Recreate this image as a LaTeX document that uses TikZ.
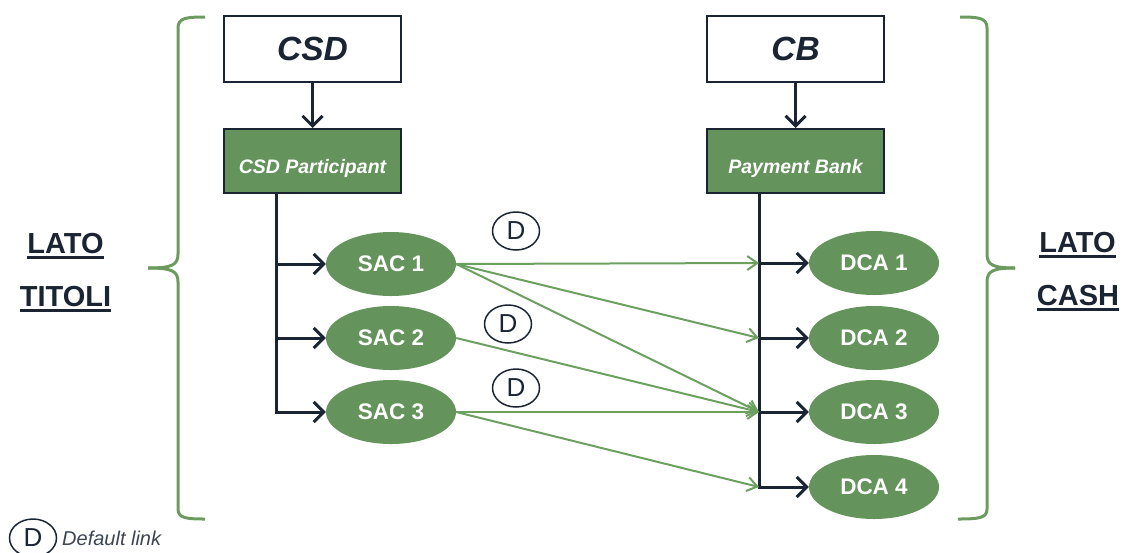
\documentclass[tikz,border=0pt]{standalone}
\usepackage{fontspec}
\setmainfont{Liberation Sans}
\usetikzlibrary{arrows.meta,shapes.geometric}
\definecolor{dk}{HTML}{1B2433}
\definecolor{gf}{HTML}{64935B}
\definecolor{gl}{HTML}{6CA060}
\definecolor{gb}{HTML}{6C9B60}
\begin{document}
\begin{tikzpicture}[x=1pt,y=-1pt,
  topbox/.style={draw=dk,line width=2pt,fill=white,minimum width=177pt,minimum height=66pt,inner sep=0pt,
    text=dk,font=\fontsize{33.5}{36}\selectfont\bfseries\itshape},
  midbox/.style={draw=dk,line width=2pt,fill=gf,minimum width=177pt,minimum height=64pt,inner sep=0pt,
    text height=25pt,text depth=0pt,
    text=white,font=\fontsize{19.5}{22}\selectfont\bfseries\itshape},
  acc/.style={ellipse,fill=gf,minimum width=130pt,minimum height=64pt,inner sep=0pt,
    text=white,font=\fontsize{22.5}{25}\selectfont\bfseries},
  dcirc/.style={ellipse,draw=dk,line width=1.5pt,minimum width=47pt,minimum height=38pt,inner sep=0pt,
    text=dk,font=\fontsize{26}{28}\selectfont},
  lato/.style={inner sep=0pt,anchor=base,text=dk,font=\fontsize{29}{32}\selectfont\bfseries},
  ul/.style={draw=dk,line width=2.5pt},
  dkline/.style={draw=dk,line width=3pt},
  dkarrow/.style={dkline,-{Straight Barb[length=10pt,width=20pt,line width=3pt]}},
  garrow/.style={draw=gl,line width=2pt,-{Straight Barb[length=10pt,width=14pt,line width=2pt]}},
  brace/.style={draw=gb,line width=3pt}]
\useasboundingbox (0,0) rectangle (1123,552);

% braces
\draw[brace] (205,17) .. controls (186,17) and (178,18) .. (178,28) -- (178,254)
  .. controls (178,265) and (172,268) .. (148,268);
\draw[brace] (148,268) .. controls (172,268) and (178,271) .. (178,282) -- (178,509)
  .. controls (178,518) and (186,519) .. (205,519);
\draw[brace] (960,17) .. controls (979,17) and (987,18) .. (987,28) -- (987,254)
  .. controls (987,265) and (993,268) .. (1015,268);
\draw[brace] (1015,268) .. controls (993,268) and (987,271) .. (987,282) -- (987,509)
  .. controls (987,518) and (979,519) .. (958,519);

% side labels
\node[lato] (l1) at (65.5,253) {LATO};
\node[lato] (l2) at (65.5,306) {TITOLI};
\node[lato] (r1) at (1077.5,252) {LATO};
\node[lato] (r2) at (1078,305) {CASH};
\foreach \n in {l1,l2,r1,r2}{
  \draw[ul] ([yshift=-4.5pt]\n.base west) -- ([yshift=-4.5pt]\n.base east);
}

% boxes
\node[topbox] (csd) at (312.5,49) {CSD};
\node[topbox] (cb) at (795.5,49) {CB};
\node[midbox] (csdp) at (312.5,161) {CSD Participant};
\node[midbox] (pb) at (795.5,161) {Payment Bank};
\draw[dkarrow] (csd) -- (csdp);
\draw[dkarrow] (cb) -- (pb);

% accounts
\node[acc] (s1) at (391,264) {SAC 1};
\node[acc] (s2) at (391,338) {SAC 2};
\node[acc] (s3) at (391,412) {SAC 3};
\node[acc] (d1) at (874,263) {DCA 1};
\node[acc] (d2) at (874,338) {DCA 2};
\node[acc] (d3) at (874,412) {DCA 3};
\node[acc] (d4) at (874,487) {DCA 4};

% trunks
\coordinate (lt0) at (276,193);
\coordinate (rt0) at (759,193);
\draw[dkarrow] (lt0) |- (s3.west);
\draw[dkarrow] (s1.west -| lt0) -- (s1.west);
\draw[dkarrow] (s2.west -| lt0) -- (s2.west);
\draw[dkarrow] (rt0) |- (d4.west);
\draw[dkarrow] (d1.west -| rt0) -- (d1.west);
\draw[dkarrow] (d2.west -| rt0) -- (d2.west);
\draw[dkarrow] (d3.west -| rt0) -- (d3.west);

% green links
\draw[garrow] (s1.east) -- (d1.west -| rt0);
\draw[garrow] (s1.east) -- (d2.west -| rt0);
\draw[garrow] (s1.east) -- (d3.west -| rt0);
\draw[garrow] (s2.east) -- (d3.west -| rt0);
\draw[garrow] (s3.east) -- (d3.west -| rt0);
\draw[garrow] (s3.east) -- (d4.west -| rt0);

% default markers
\node[dcirc] (D1) at (516,231) {D};
\node[dcirc] (D2) at (508,324) {D};
\node[dcirc] (D3) at (516,388) {D};

% legend
\node[dcirc] (DL) at (33,538) {D};
\node[anchor=base west,inner sep=0pt,text=dk!85,font=\fontsize{20}{22}\selectfont\itshape] (dltxt) at (62,545) {Default link};
\end{tikzpicture}
\end{document}
